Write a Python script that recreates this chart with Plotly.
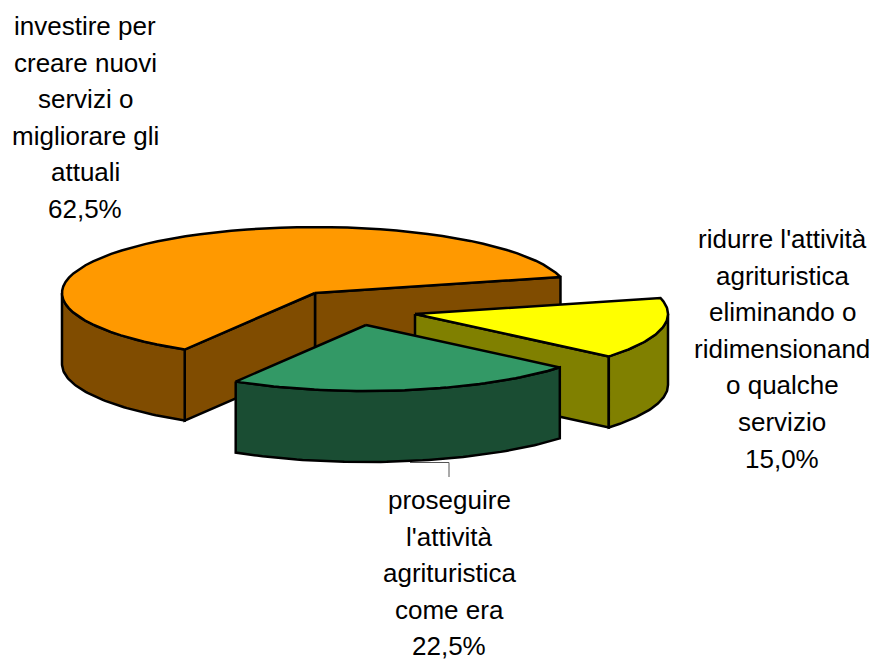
import numpy as np
import plotly.graph_objects as go

# Quote percentuali del grafico a torta
shares = [62.5, 15.0, 22.5]
label_lines = [
    ["investire per", "creare nuovi", "servizi o", "migliorare gli", "attuali", "62,5%"],
    ["ridurre l'attività", "agrituristica", "eliminando o", "ridimensionand", "o qualche", "servizio", "15,0%"],
    ["proseguire", "l'attività", "agrituristica", "come era", "22,5%"],
]
top_colors = ["#FF9900", "#FFFF00", "#339966"]
side_colors = ["#804C00", "#808000", "#1A4D33"]

# Geometria della torta in pixel
CX, CY = 315, 293
A, B = 253, 66
DEPTH = 71
START = 14  # gradi, bordo destro della fetta arancione
explode = [(0, 0), (100, 21), (51, 32)]
label_pos = [(85, 26), (782, 239), (449, 500)]
LINE_STEP = 36.6


def arc(t0, t1, dx, dy, drop=0):
    t = np.radians(np.linspace(t0, t1, 60))
    return CX + dx + A * np.cos(t), CY + dy + drop - B * np.sin(t)


def poly(fig, xs, ys, color):
    fig.add_trace(go.Scatter(
        x=np.append(xs, xs[0]), y=np.append(ys, ys[0]),
        mode='lines', fill='toself', fillcolor=color,
        line=dict(color='black', width=2.5),
        hoverinfo='skip', showlegend=False
    ))


def outer_wall(fig, t0, t1, dx, dy, color):
    x_top, y_top = arc(t0, t1, dx, dy)
    x_bot, y_bot = arc(t1, t0, dx, dy, DEPTH)
    poly(fig, np.r_[x_top, x_bot], np.r_[y_top, y_bot], color)


def cut_face(fig, t, dx, dy, color):
    x_e, y_e = arc(t, t, dx, dy)
    x_e, y_e = x_e[0], y_e[0]
    ax, ay = CX + dx, CY + dy
    poly(fig, np.array([ax, x_e, x_e, ax]), np.array([ay, y_e, y_e + DEPTH, ay + DEPTH]), color)


def top_face(fig, t0, t1, dx, dy, color):
    xs, ys = arc(t0, t1, dx, dy)
    poly(fig, np.r_[CX + dx, xs], np.r_[CY + dy, ys], color)


# Angoli ricavati dalle quote: arancione antiorario, poi giallo e verde in senso orario
sweep = [s * 3.6 for s in shares]
orange = (START, START + sweep[0])
yellow = (START - sweep[1], START)
green = (START - sweep[1] - sweep[2], START - sweep[1])

fig = go.Figure()

# Fetta arancione
cut_face(fig, orange[0], *explode[0], side_colors[0])
cut_face(fig, orange[1], *explode[0], side_colors[0])
outer_wall(fig, 180, orange[1], *explode[0], side_colors[0])
top_face(fig, *orange, *explode[0], top_colors[0])

# Fetta gialla
cut_face(fig, yellow[0], *explode[1], side_colors[1])
outer_wall(fig, yellow[0], 0, *explode[1], side_colors[1])
top_face(fig, *yellow, *explode[1], top_colors[1])

# Fetta verde
outer_wall(fig, green[0], green[1], *explode[2], side_colors[2])
top_face(fig, *green, *explode[2], top_colors[2])

# Linea guida dell'etichetta verde
fig.add_trace(go.Scatter(
    x=[410, 449, 449], y=[462.5, 462.5, 477], mode='lines',
    line=dict(color='#555555', width=1), hoverinfo='skip', showlegend=False
))

# Etichette, una riga alla volta per rispettare l'interlinea
for lines, (lx, ly) in zip(label_lines, label_pos):
    for i, line in enumerate(lines):
        fig.add_annotation(
            x=lx, y=ly + i * LINE_STEP, text=line, showarrow=False,
            xanchor='center', yanchor='middle',
            font=dict(family='Liberation Sans, Arial, sans-serif', size=26, color='black')
        )

fig.update_layout(
    width=873, height=659,
    margin=dict(l=0, r=0, t=0, b=0),
    paper_bgcolor='white', plot_bgcolor='white',
    xaxis=dict(range=[0, 873], visible=False, fixedrange=True),
    yaxis=dict(range=[659, 0], visible=False, fixedrange=True),
    showlegend=False
)

# La pagina ha un margine di default di 8px: va tolto
fig.write_html(
    "out.html",
    config={'displayModeBar': False},
    post_script="document.body.style.margin='0';document.body.style.overflow='hidden';"
)
